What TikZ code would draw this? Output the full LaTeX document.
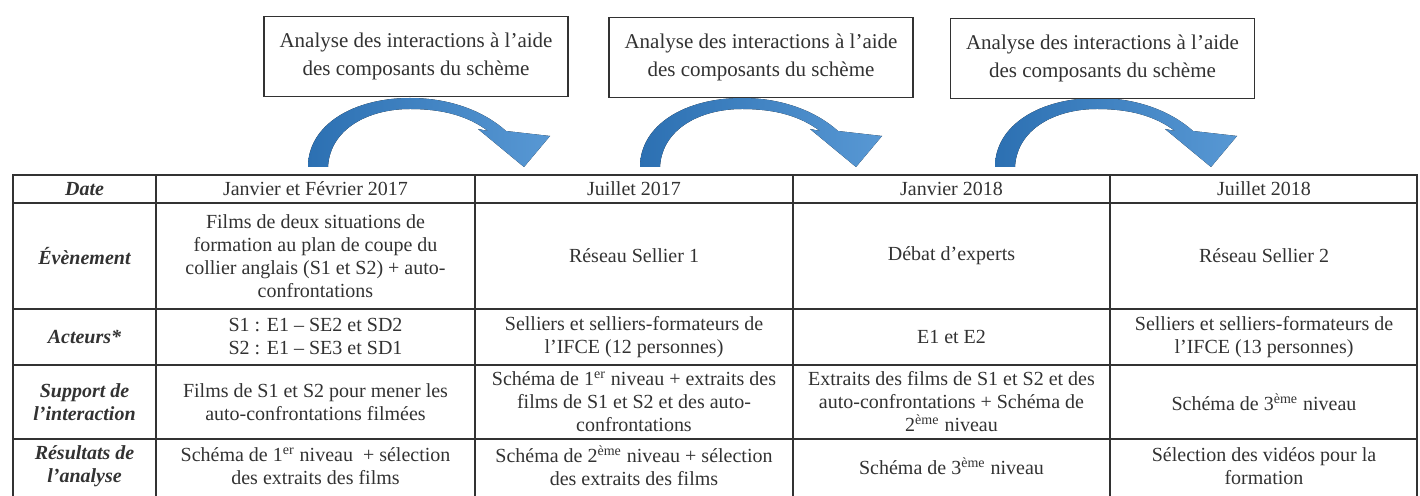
\documentclass[tikz,border=0pt]{standalone}
\usepackage{fontspec}
\setmainfont{Liberation Serif}
\definecolor{arcblue}{RGB}{44,112,178}
\definecolor{arcbluelight}{RGB}{88,152,212}
\definecolor{inkgray}{RGB}{50,50,50}
\tikzset{
  cell/.style={align=center, inner sep=0pt, text=inkgray, font=\fontsize{10}{11.5}\selectfont},
  headcell/.style={cell, font=\fontsize{10}{11.5}\selectfont\bfseries\itshape},
  anbox/.style={draw=inkgray, line width=0.8pt, fill=white, align=center, text=inkgray,
    minimum width=152pt, minimum height=40pt, font=\fontsize{10.5}{14}\selectfont},
  tableline/.style={draw=inkgray, line width=0.9pt},
  bendarrow/.style={left color=arcblue, right color=arcbluelight, draw=none}
}
\begin{document}
\begin{tikzpicture}[x=0.5pt,y=-0.5pt]
  \path[use as bounding box] (0,0) rectangle (1420,496);
  \clip (0,0) rectangle (1420,496);
  \foreach \t in {318,650,1005}
    \fill[bendarrow, shift={(\t,167)}]
      (-10,0) .. controls (-10,-42) and (35,-69) .. (92,-69)
      .. controls (135,-69) and (168,-54) .. (188,-36)
      -- (232,-31) -- (206,0) -- (160,-38) -- (170,-36)
      .. controls (150,-51) and (125,-58) .. (92,-58)
      .. controls (50,-58) and (12,-38) .. (10,0) -- cycle;
  \node[anbox] (a1) at (416,56.5) {Analyse des interactions à l'aide\\des composants du schème};
  \node[anbox] (a2) at (761,57.5) {Analyse des interactions à l'aide\\des composants du schème};
  \node[anbox] (a3) at (1102.5,58.5) {Analyse des interactions à l'aide\\des composants du schème};
  \draw[tableline] (13,175) rectangle (1417,520);
  \foreach \x in {156,475,793,1110}
    \draw[tableline] (\x,175) -- (\x,520);
  \foreach \y in {203,309,365,439}
    \draw[tableline] (13,\y) -- (1417,\y);
  \draw
    (84.5,189) node[headcell] (h0) {Date}
    (84.5,256) node[headcell] (h1) {Évènement}
    (84.5,337) node[headcell] (h2) {Acteurs*}
    (84.5,402) node[headcell] (h3) {Support de\\l'interaction}
    (84.5,466) node[headcell] (h4) {Résultats de\\l'analyse};
  \draw
    (315.5,189) node[cell] (d1) {Janvier et Février 2017}
    (634,189) node[cell] (d2) {Juillet 2017}
    (951.5,189) node[cell] (d3) {Janvier 2018}
    (1264,189) node[cell] (d4) {Juillet 2018};
  \draw
    (315.5,256) node[cell] (e1) {Films de deux situations de\\formation au plan de coupe du\\collier anglais (S1 et S2) + auto-\\confrontations}
    (634,256) node[cell] (e2) {Réseau Sellier 1}
    (951.5,256) node[cell] (e3) {Débat d'experts}
    (1264,256) node[cell] (e4) {Réseau Sellier 2};
  \draw
    (315.5,337) node[cell] (c1) {S1 : E1 -- SE2 et SD2\\S2 : E1 -- SE3 et SD1}
    (634,337) node[cell] (c2) {Selliers et selliers-formateurs de\\l'IFCE (12 personnes)}
    (951.5,337) node[cell] (c3) {E1 et E2}
    (1264,337) node[cell] (c4) {Selliers et selliers-formateurs de\\l'IFCE (13 personnes)};
  \draw
    (315.5,402) node[cell] (s1) {Films de S1 et S2 pour mener les\\auto-confrontations filmées}
    (634,402) node[cell] (s2) {Schéma de 1\textsuperscript{er} niveau + extraits des\\films de S1 et S2 et des auto-\\confrontations}
    (951.5,402) node[cell] (s3) {Extraits des films de S1 et S2 et des\\auto-confrontations + Schéma de\\2\textsuperscript{ème} niveau}
    (1264,402) node[cell] (s4) {Schéma de 3\textsuperscript{ème} niveau};
  \draw
    (315.5,466) node[cell] (r1) {Schéma de 1\textsuperscript{er} niveau~ + sélection\\des extraits des films}
    (634,466) node[cell] (r2) {Schéma de 2\textsuperscript{ème} niveau + sélection\\des extraits des films}
    (951.5,466) node[cell] (r3) {Schéma de 3\textsuperscript{ème} niveau}
    (1264,466) node[cell] (r4) {Sélection des vidéos pour la\\formation};
\end{tikzpicture}
\end{document}
